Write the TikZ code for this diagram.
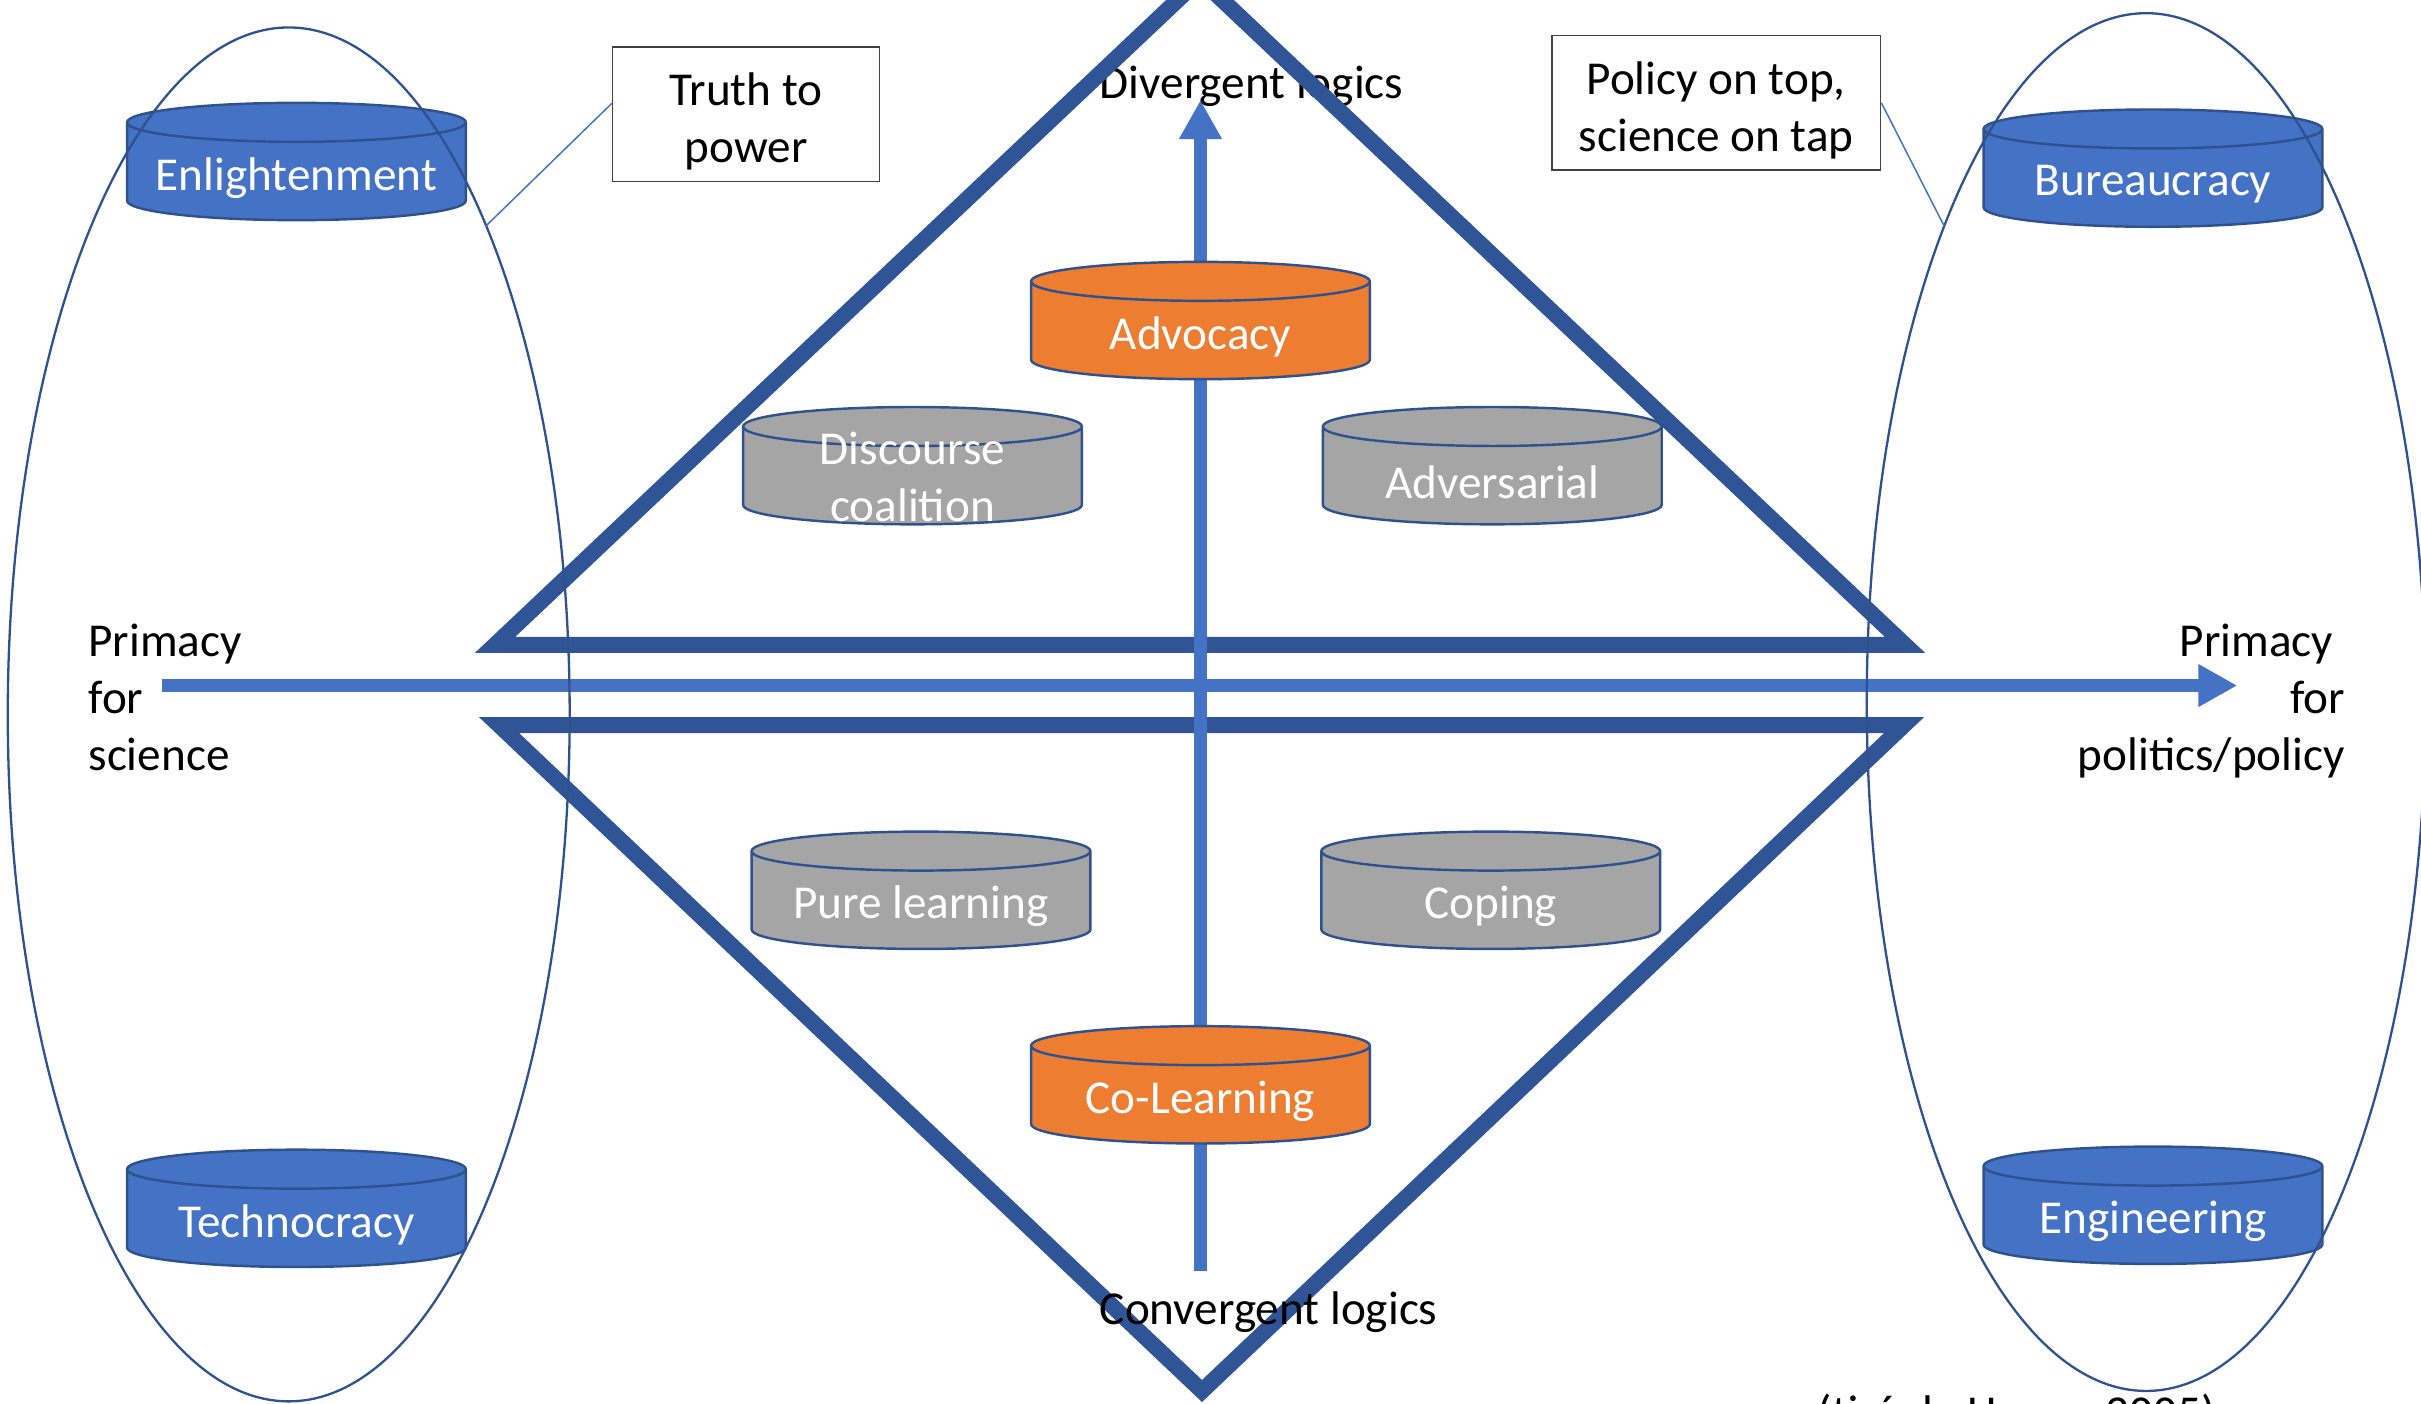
\documentclass[tikz,border=0pt]{standalone}
\usepackage{fontspec}
\setmainfont{Carlito}
\usepackage{tikz}
\usetikzlibrary{positioning,shapes,arrows.meta}

\definecolor{hopblue}{HTML}{4472C4}
\definecolor{hopdark}{HTML}{2F528F}
\definecolor{hoptri}{HTML}{2F5597}
\definecolor{hoporange}{HTML}{ED7D31}
\definecolor{hopgray}{HTML}{A5A5A5}

\begin{document}
\begin{tikzpicture}[x=0.02cm, y=-0.02cm,
	every node/.style={font=\fontsize{17.4}{21.1}\selectfont},
	drum/.style={cylinder, shape border rotate=90, aspect=0.115, draw=hopdark, line width=0.9pt, minimum width=4.39cm, minimum height=1.52cm, inner sep=0pt, cylinder uses custom fill},
	drumtext/.style={text=white, align=center, inner sep=0pt, yshift=-0.077cm},
	bluedrum/.style={drum, cylinder body fill=hopblue, cylinder end fill=hopblue},
	orangedrum/.style={drum, cylinder body fill=hoporange, cylinder end fill=hoporange},
	graydrum/.style={drum, cylinder body fill=hopgray, cylinder end fill=hopgray},
	zone/.style={ellipse, draw=hopdark, line width=0.85pt, inner sep=0pt, outer sep=0pt},
	tri/.style={draw=hoptri, line width=5.9pt, line join=miter},
	axis/.style={hopblue, line width=4.8pt, -{Triangle[length=5.05mm, width=5.2mm]}},
	callout/.style={draw=black!75, line width=0.6pt, align=center, inner sep=0pt},
	lead/.style={hopblue, line width=0.55pt},
	lbl/.style={inner sep=0pt}]
		\useasboundingbox (0,0) rectangle (1568,909.3);
		\node[lbl, anchor=base west] (div) at (712,63.7) {Divergent logics};
		\draw[tri] (320.6,417.7) -- (777.2,-13.6) -- (1233.8,417.7) -- cycle;
		\draw[tri] (323.2,469.6) -- (778.5,900.9) -- (1233.2,469.6) -- cycle;
		\coordinate (sciend) at (105,444);
		\coordinate (polend) at (1449,444);
		\coordinate (conend) at (777.5,823);
		\coordinate (divend) at (777.5,64.8);
		\draw[axis] (sciend) -- (polend);
		\draw[axis] (conend) -- (divend);
		\node[lbl, anchor=base west] (conv) at (712,858) {Convergent logics};
		\node[bluedrum, label={[drumtext]center:Enlightenment}] (enl) at (192,111.3) {\rule{4.39cm}{0pt}};
		\node[bluedrum, label={[drumtext]center:Technocracy}] (tec) at (192,789.3) {\rule{4.39cm}{0pt}};
		\node[bluedrum, label={[drumtext]center:Bureaucracy}] (bur) at (1394.4,115.6) {\rule{4.39cm}{0pt}};
		\node[bluedrum, label={[drumtext]center:Engineering}] (eng) at (1394.4,787.3) {\rule{4.39cm}{0pt}};
		\node[orangedrum, label={[drumtext]center:Advocacy}] (adv) at (777.5,214.3) {\rule{4.39cm}{0pt}};
		\node[orangedrum, label={[drumtext]center:Co-Learning}] (col) at (777.5,709.3) {\rule{4.39cm}{0pt}};
		\node[graydrum, label={[drumtext, yshift=0.07cm]center:{Discourse\\coalition}}] (dis) at (591,308.3) {\rule{4.39cm}{0pt}};
		\node[graydrum, label={[drumtext]center:Adversarial}] (adver) at (966.5,308.3) {\rule{4.39cm}{0pt}};
		\node[graydrum, label={[drumtext]center:Pure learning}] (pure) at (596.5,583.3) {\rule{4.39cm}{0pt}};
		\node[graydrum, label={[drumtext]center:Coping}] (cop) at (965.5,583.3) {\rule{4.39cm}{0pt}};
		\node[callout, minimum width=3.46cm, minimum height=1.74cm] (truth) at (483.2,74) {\rule{0pt}{1em}Truth to\\power};
		\node[callout, minimum width=4.26cm, minimum height=1.74cm] (tap) at (1111.5,66.6) {\rule{0pt}{1em}Policy on top,\\science on tap};
		\node[lbl, anchor=north west, align=left] (forsci) at (57,403.7) {Primacy\\for\\science};
		\node[lbl, anchor=north east, align=right] (forpol) at (1519,403.7) {Primacy\hspace*{0.25em}\\for\\politics/policy};
		\node[lbl, anchor=base west] (src) at (1177,925) {(tiré de Hoppe 2005)};
		\node[zone, minimum width=7.28cm, minimum height=17.8cm] (scizone) at (187,462.7) {};
		\node[zone, minimum width=7.24cm, minimum height=17.85cm] (polzone) at (1390,454.7) {};
		\draw[lead] ([yshift=0.14cm]truth.west) -- (scizone.68);
		\draw[lead] (tap.east) -- (polzone.113);
	\end{tikzpicture}
\end{document}
